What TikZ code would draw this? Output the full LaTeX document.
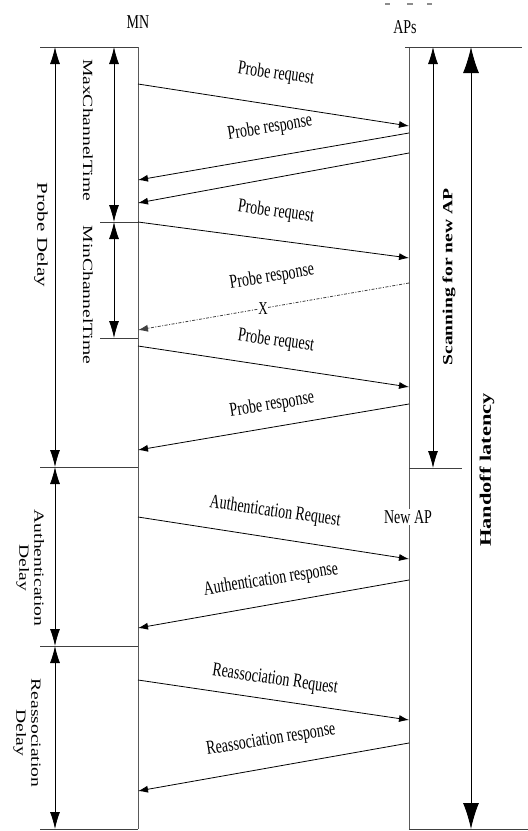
\documentclass[tikz,border=0pt]{standalone}
\usepackage{fontspec}
\setmainfont{Liberation Serif}
\usetikzlibrary{arrows.meta}
\newcommand{\vstr}[1]{\scalebox{1}[1.4]{#1}}
\newcommand{\hstr}[1]{\scalebox{1.4}[1]{#1}}
\begin{document}
\begin{tikzpicture}[x=1pt,y=-1pt,
  lbl/.style={font=\fontsize{14}{16}\selectfont, inner sep=1pt},
  msg/.style={line width=0.8pt, -{Latex[length=10pt,width=7pt]}},
  lost/.style={msg, black!75, dash pattern=on 3pt off 1.5pt on 1pt off 1.5pt},
  life/.style={line width=0.8pt, black!65},
  rule/.style={line width=0.8pt, black!75},
  span/.style={line width=0.8pt, {Latex[length=17pt,width=10pt]}-{Latex[length=17pt,width=10pt]}},
  bigspan/.style={line width=0.9pt, {Latex[length=26pt,width=16pt]}-{Latex[length=26pt,width=16pt]}}
]
\useasboundingbox (0,0) rectangle (528,831);

% lifelines
\coordinate (mnTop) at (138,47);
\coordinate (mnBot) at (138,829);
\coordinate (apTop) at (409,47);
\coordinate (apBot) at (409,829);
\draw[life] (mnTop) -- (mnBot);
\draw[life] (apTop) -- (apBot);

% horizontal rules
\coordinate (h1a) at (40,47);   \coordinate (h1b) at (138,47);
\coordinate (h2a) at (100,222); \coordinate (h2b) at (138,222);
\coordinate (h3a) at (100,338); \coordinate (h3b) at (138,338);
\coordinate (h4a) at (40,467);  \coordinate (h4b) at (138,467);
\coordinate (h5a) at (40,646);  \coordinate (h5b) at (138,646);
\coordinate (h6a) at (40,829);  \coordinate (h6b) at (138,829);
\coordinate (r1a) at (405,47);  \coordinate (r1b) at (522,47);
\coordinate (r2a) at (409,468); \coordinate (r2b) at (462,468);
\coordinate (r3a) at (409,829); \coordinate (r3b) at (528,829);
\foreach \a/\b in {h1a/h1b,h2a/h2b,h3a/h3b,h4a/h4b,h5a/h5b,h6a/h6b,r1a/r1b,r2a/r2b,r3a/r3b}
  \draw[rule] (\a) -- (\b);

% cropped marks at top
\coordinate (d1a) at (385,4); \coordinate (d1b) at (390,4);
\coordinate (d2a) at (407,4); \coordinate (d2b) at (413,4);
\coordinate (d3a) at (427,4); \coordinate (d3b) at (432,4);
\foreach \a/\b in {d1a/d1b,d2a/d2b,d3a/d3b}
  \draw[line width=1.5pt, black!45] (\a) -- (\b);

% titles
\node[lbl] (mn) at (138,22) {\vstr{MN}};
\node[lbl] (aps) at (405,27) {\vstr{APs}};
\node[lbl, fill=white] (newap) at (408,517) {\vstr{New AP}};

% span arrows
\coordinate (pdT) at (55,47);   \coordinate (pdB) at (55,467);
\coordinate (mxT) at (114,47);  \coordinate (mxB) at (114,222);
\coordinate (miT) at (114,222); \coordinate (miB) at (114,338);
\coordinate (adT) at (55,467);  \coordinate (adB) at (55,646);
\coordinate (rdT) at (55,646);  \coordinate (rdB) at (55,829);
\coordinate (scT) at (433,47);  \coordinate (scB) at (433,468);
\coordinate (hlT) at (471,47);  \coordinate (hlB) at (471,829);
\draw[span] (pdT) -- (pdB);
\draw[span] (mxT) -- (mxB);
\draw[span] (miT) -- (miB);
\draw[span] (adT) -- (adB);
\draw[span] (rdT) -- (rdB);
\draw[span] (scT) -- (scB);
\draw[bigspan] (hlT) -- (hlB);

% span labels
\node[lbl, rotate=-90, font=\fontsize{15}{17}\selectfont] (pdl) at (41,235) {\hstr{Probe Delay}};
\node[lbl, rotate=-90] (mxl) at (88,130) {\hstr{MaxChannelTime}};
\node[lbl, rotate=-90] (mil) at (88,295) {\hstr{MinChannelTime}};
\node[lbl, rotate=-90] (adl) at (30,568) {\hstr{\begin{tabular}{@{}c@{}}Authentication\\[-1pt]Delay\end{tabular}}};
\node[lbl, rotate=-90] (rdl) at (27,733) {\hstr{\begin{tabular}{@{}c@{}}Reassociation\\[-1pt]Delay\end{tabular}}};
\node[lbl, rotate=90, font=\fontsize{14}{16}\selectfont\bfseries] (scl) at (449,277) {\hstr{Scanning for new AP}};
\node[lbl, rotate=90, font=\fontsize{16}{18}\selectfont\bfseries] (hll) at (487,470) {\hstr{Handoff latency}};

% messages
\coordinate (m1) at (138,84);   \coordinate (a1) at (409,126);
\coordinate (a2) at (409,133);  \coordinate (m2) at (138,180);
\coordinate (a3) at (409,153);  \coordinate (m3) at (138,203);
\coordinate (m4) at (138,222);  \coordinate (a4) at (409,258);
\coordinate (a5) at (409,283);  \coordinate (m5) at (138,330);
\coordinate (m6) at (138,346);  \coordinate (a6) at (409,387);
\coordinate (a7) at (409,404);  \coordinate (m7) at (138,450);
\coordinate (m8) at (138,517);  \coordinate (a8) at (409,559);
\coordinate (a9) at (409,580);  \coordinate (m9) at (138,628);
\coordinate (m10) at (138,680); \coordinate (a10) at (409,720);
\coordinate (a11) at (409,743); \coordinate (m11) at (138,791);

\draw[msg] (m1) -- (a1);
\draw[msg] (a2) -- (m2);
\draw[msg] (a3) -- (m3);
\draw[msg] (m4) -- (a4);
\draw[lost] (a5) -- (m5);
\draw[msg] (m6) -- (a6);
\draw[msg] (a7) -- (m7);
\draw[msg] (m8) -- (a8);
\draw[msg] (a9) -- (m9);
\draw[msg] (m10) -- (a10);
\draw[msg] (a11) -- (m11);

% message labels
\node[lbl, rotate=-8] (l1) at (276,74) {\vstr{Probe request}};
\node[lbl, rotate=9] (l2) at (270,128) {\vstr{Probe response}};
\node[lbl, rotate=-8] (l3) at (276,212) {\vstr{Probe request}};
\node[lbl, rotate=9] (l4) at (272,277) {\vstr{Probe response}};
\node[lbl, font=\fontsize{13}{15}\selectfont, fill=white, inner sep=0pt] (lx) at (263,309) {\vstr{X}};
\node[lbl, rotate=-8] (l5) at (276,341) {\vstr{Probe request}};
\node[lbl, rotate=9] (l6) at (272,405) {\vstr{Probe response}};
\node[lbl, rotate=-8] (l7) at (275,512) {\vstr{Authentication Request}};
\node[lbl, rotate=9] (l8) at (271,580) {\vstr{Authentication response}};
\node[lbl, rotate=-8] (l9) at (275,680) {\vstr{Reassociation Request}};
\node[lbl, rotate=9] (l10) at (271,740) {\vstr{Reassociation response}};
\end{tikzpicture}
\end{document}
